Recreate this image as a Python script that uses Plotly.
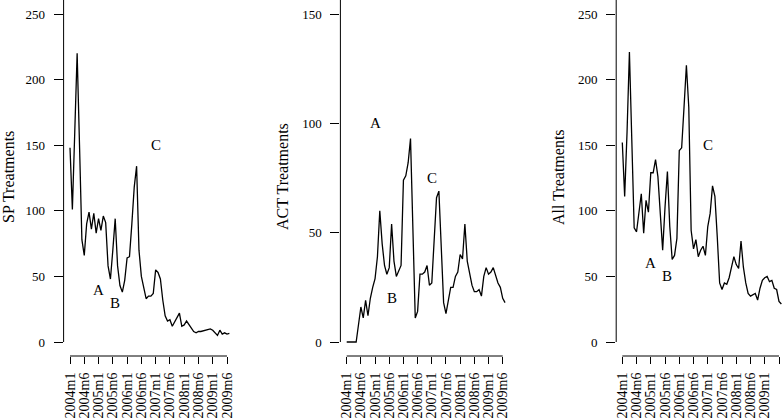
import plotly.graph_objects as go

# ---------------- data ----------------
tick_labels = ["2004m1", "2004m6", "2005m1", "2005m6", "2006m1", "2006m6",
               "2007m1", "2007m6", "2008m1", "2008m6", "2009m1", "2009m6"]

sp_treatments = [148, 101, 160, 220, 150, 78, 66, 90, 99, 86, 98, 83, 94, 85, 96, 91,
                 58, 48, 70, 94, 58, 43, 38, 47, 64, 65, 90, 118, 134, 70, 50, 40,
                 33, 35, 35, 37, 55, 53, 48, 32, 20, 16, 17, 12, 15, 18, 22, 12,
                 13, 16, 13, 10, 8, 7, 8, 8, 8.5, 9, 9, 10, 9, 7, 5, 9, 6, 7, 6, 6.5]

act_treatments = [0, 0, 0, 0, 0, 8, 16, 11, 19, 12, 20, 25, 29, 39, 60, 45,
                  35, 31, 34, 54, 37, 30, 33, 35, 74, 76, 82, 93, 52, 11, 14, 31,
                  31, 32, 35, 26, 27, 45, 66, 69, 46, 18, 13, 19, 25, 25, 30, 32,
                  40, 38, 54, 37, 31, 26, 23, 23, 24, 21, 30, 34, 31, 32, 34, 31,
                  27, 25, 20, 18]

all_treatments = [152, 111, 160, 221, 154, 87, 84, 100, 113, 83, 108, 99, 129, 129, 139, 126,
                  98, 70, 103, 130, 88, 63, 66, 79, 146, 148, 179, 211, 179, 85, 71, 78,
                  65, 70, 73, 66, 88, 98, 119, 111, 80, 45, 40, 45, 44, 49, 57, 65,
                  59, 56, 77, 57, 45, 37, 35, 36, 37, 32, 41, 47, 49, 50, 46, 47,
                  41, 40, 31, 29]

series_names = ["SP Treatments", "ACT Treatments", "All Treatments"]
series_values = [sp_treatments, act_treatments, all_treatments]
y_ticks = [[0, 50, 100, 150, 200, 250], [0, 50, 100, 150], [0, 50, 100, 150, 200, 250]]

label_text = ["A", "B", "C"]
label_x = [12, 19, 36]
label_y = [[40, 30, 150], [100, 20, 75], [60, 50, 150]]

# ---------------- layout geometry (pixels) ----------------
W, H = 784, 419
FONT = "Liberation Serif, Times New Roman, serif"
x_axis_px = 356          # pixel row of the x axis line
geo = [
    dict(left=63.6, t0=70.0, t1=227.0, title_x=8),
    dict(left=340.4, t0=346.7, t1=502.7, title_x=282),
    dict(left=616.2, t0=622.3, t1=779.0, title_x=558),
]
y_scales = [(342 - 14) / 250, (342 - 14) / 150, (342 - 14) / 250]

tick_vals = list(range(0, 67, 6))
n = len(sp_treatments)
xs = list(range(n))

fig = go.Figure()
layout = dict(
    template="none",
    width=W, height=H,
    margin=dict(l=0, r=0, t=0, b=0, pad=0, autoexpand=False),
    paper_bgcolor="white", plot_bgcolor="white",
    showlegend=False,
    font=dict(family=FONT, size=13, color="black"),
)
shapes = []
annotations = []

for k in range(3):
    g = geo[k]
    sfx = "" if k == 0 else str(k + 1)
    xa = "x" + sfx
    ya = "y" + sfx
    sc = (g["t1"] - g["t0"]) / 66.0
    right = min(g["left"] + 172.0, W)
    xr = [(g["left"] - g["t0"]) / sc, (right - g["t0"]) / sc]
    ys = y_scales[k]
    yr = [(342 - x_axis_px) / ys, 342 / ys]

    fig.add_trace(go.Scatter(x=xs, y=series_values[k], mode="lines",
                             line=dict(color="black", width=1.3),
                             xaxis=xa, yaxis=ya, hoverinfo="skip"))

    layout["xaxis" + sfx] = dict(
        domain=[g["left"] / W, right / W], range=xr, anchor=ya, automargin=False,
        showgrid=False, zeroline=False, showline=False,
        tickmode="array", tickvals=tick_vals, ticktext=tick_labels,
        tickangle=-90, ticks="outside", ticklen=7, tickwidth=1, tickcolor="black",
        tickfont=dict(family=FONT, size=14, color="black"),
        ticklabelstandoff=3,
    )
    layout["yaxis" + sfx] = dict(
        domain=[(H - x_axis_px) / H, 1.0], range=yr, anchor=xa, automargin=False,
        showgrid=False, zeroline=False, showline=False,
        tickmode="array", tickvals=y_ticks[k],
        ticks="outside", ticklen=9, tickwidth=1, tickcolor="black",
        tickfont=dict(family=FONT, size=13, color="black"),
        ticklabelstandoff=6,
    )
    # axis lines spanning the tick range (R style)
    shapes.append(dict(type="line", xref=xa + " domain", yref=ya,
                       x0=0, x1=0, y0=0, y1=yr[1] + 5,
                       line=dict(color="black", width=1)))
    shapes.append(dict(type="line", xref=xa, yref=ya + " domain",
                       x0=0, x1=66, y0=0, y1=0,
                       line=dict(color="black", width=1)))
    # A, B, C labels
    for t, lx, ly in zip(label_text, label_x, label_y[k]):
        annotations.append(dict(x=lx, y=ly, xref=xa, yref=ya, text=t,
                                showarrow=False,
                                font=dict(family=FONT, size=15, color="black")))
    # y-axis title
    annotations.append(dict(x=g["title_x"] / W, y=(H - 177) / H, xref="paper", yref="paper",
                            text=series_names[k], textangle=-90, showarrow=False,
                            xanchor="center", yanchor="middle",
                            font=dict(family=FONT, size=16, color="black")))

layout["shapes"] = shapes
layout["annotations"] = annotations
fig.update_layout(**layout)
fig.write_html("out.html", config={"displayModeBar": False},
               post_script="document.body.style.margin='0';document.body.style.padding='0';")
